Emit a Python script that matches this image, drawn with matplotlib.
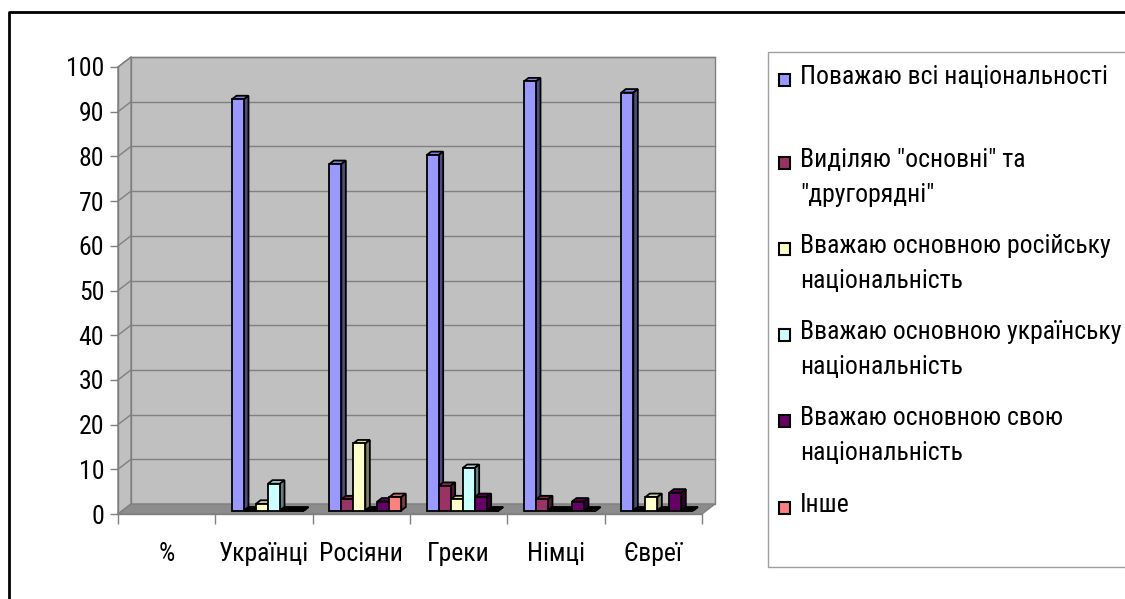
import matplotlib
matplotlib.use("Agg")
import matplotlib.pyplot as plt
from matplotlib.patches import Polygon, Rectangle
from matplotlib.lines import Line2D
import numpy as np

plt.rcParams['font.family'] = ['Roboto Condensed', 'Liberation Sans', 'DejaVu Sans']

# --- data -------------------------------------------------------------
categories = ["%", "Українці", "Росіяни", "Греки", "Німці", "Євреї"]
series_names = [
    "Поважаю всі національності",
    "Виділяю \"основні\" та\n\"другорядні\"",
    "Вважаю основною російську\nнаціональність",
    "Вважаю основною українську\nнаціональність",
    "Вважаю основною свою\nнаціональність",
    "Інше",
]
nan = float("nan")
respect_all = [nan, 92, 77.5, 79.5, 96, 93.5]
main_and_minor = [nan, 0, 2.5, 5.5, 2.5, 0]
main_russian = [nan, 1.5, 15, 2.5, 0, 3]
main_ukrainian = [nan, 6, 0, 9.5, 0, 0]
main_own = [nan, 0, 2, 3, 2, 4]
other = [nan, 0, 3, 0, 0, 0]
series_values = [respect_all, main_and_minor, main_russian, main_ukrainian, main_own, other]
series_colors = ["#9999FF", "#993366", "#FFFFCC", "#CCFFFF", "#660066", "#FF8080"]
y_ticks = list(range(0, 101, 10))

FS = 18.5

# --- figure and front plane of the chart ------------------------------
W, H = 1125, 599
fig = plt.figure(figsize=(W / 100, H / 100), dpi=100)
fig.patch.set_facecolor("white")

x0, x1 = 118, 702      # front plane, pixels
ytop, ybot = 67, 514
ax = fig.add_axes([x0 / W, 1 - ybot / H, (x1 - x0) / W, (ybot - ytop) / H])
ncat = len(categories)
ax.set_xlim(0, ncat)
ax.set_ylim(0, 100)
ax.set_facecolor("none")
for s in ax.spines.values():
    s.set_visible(False)

px_x = ncat / (x1 - x0)        # data units per pixel
px_y = 100 / (ybot - ytop)
wall_dx, wall_dy = 13 * px_x, 10 * px_y

wall_col = "#C0C0C0"
edge_col = "#808080"

# back wall
ax.add_patch(Rectangle((wall_dx, wall_dy), ncat, 100, facecolor=wall_col,
                       edgecolor=edge_col, lw=1, zorder=0, clip_on=False))
# left side wall
ax.add_patch(Polygon([(0, 0), (wall_dx, wall_dy), (wall_dx, 100 + wall_dy), (0, 100)],
                     closed=True, facecolor=wall_col, edgecolor=edge_col, lw=1,
                     zorder=0.5, clip_on=False))
# floor
ax.add_patch(Polygon([(0, 0), (ncat, 0), (ncat + wall_dx, wall_dy), (wall_dx, wall_dy)],
                     closed=True, facecolor="#8C8C8C", edgecolor=edge_col, lw=1,
                     zorder=0.6, clip_on=False))
# gridlines on back and side walls
for v in y_ticks[1:]:
    ax.plot([wall_dx, ncat + wall_dx], [v + wall_dy, v + wall_dy], color=edge_col,
            lw=1, zorder=0.3, clip_on=False)
    ax.plot([0, wall_dx], [v, v + wall_dy], color=edge_col, lw=1, zorder=0.7,
            clip_on=False)

# --- bars ---------------------------------------------------------------
nser = len(series_values)
bw = 12 * px_x
fdx, fdy = 4 * px_x, 3.5 * px_y      # front face of the bars
ddx, ddy = 4.5 * px_x, 3.5 * px_y    # bar depth


def shade(c, f):
    r, g, b = matplotlib.colors.to_rgb(c)
    return (r * f, g * f, b * f)


centers = np.arange(ncat) + 0.5
for j, (vals, col) in enumerate(zip(series_values, series_colors)):
    lefts = centers - nser * bw / 2 + j * bw + fdx
    z = 3 + j * 0.1
    ax.bar(lefts, vals, width=bw, bottom=fdy, align="edge", color=col,
           edgecolor="black", lw=1.3, zorder=z + 0.05, clip_on=False)
    for xl, v in zip(lefts, vals):
        if np.isnan(v):
            continue
        top = fdy + v
        top_col = "black" if v == 0 else shade(col, 0.85)
        ax.add_patch(Polygon([(xl, top), (xl + bw, top), (xl + bw + ddx, top + ddy),
                              (xl + ddx, top + ddy)], closed=True,
                             facecolor=top_col, edgecolor="black", lw=1.3,
                             zorder=z, clip_on=False))
        ax.add_patch(Polygon([(xl + bw, fdy), (xl + bw + ddx, fdy + ddy),
                              (xl + bw + ddx, top + ddy), (xl + bw, top)], closed=True,
                             facecolor=shade(col, 0.5), edgecolor="black", lw=1.3,
                             zorder=z, clip_on=False))

# --- axes ticks and labels ---------------------------------------------
ax.set_yticks(y_ticks)
ax.set_yticklabels([str(v) for v in y_ticks], fontsize=FS)
ax.tick_params(axis="y", length=6, width=1, color=edge_col, pad=4)
ax.set_xticks(centers)
ax.set_xticklabels(categories, fontsize=FS)
ax.tick_params(axis="x", which="major", length=0, pad=20)
ax.set_xticks(np.arange(ncat + 1), minor=True)
ax.tick_params(axis="x", which="minor", length=7, width=1, color=edge_col)
ax.plot([0, 0], [0, 100], color=edge_col, lw=1, zorder=0.8, clip_on=False)
ax.plot([0, ncat], [0, 0], color=edge_col, lw=1, zorder=0.8, clip_on=False)

# --- legend -------------------------------------------------------------
fig.patches.append(Rectangle((768 / W, 1 - 567 / H), (1130 - 768) / W, (567 - 52) / H,
                             transform=fig.transFigure, facecolor="white",
                             edgecolor="#A0A0A0", lw=1, zorder=1))
legend_y = [80, 163, 249, 335, 421, 508]
for name, col, yy in zip(series_names, series_colors, legend_y):
    fig.patches.append(Rectangle((779 / W, 1 - (yy + 6) / H), 11 / W, 12 / H,
                                 transform=fig.transFigure, facecolor=col,
                                 edgecolor="black", lw=1.5, zorder=2))
    fig.text(800 / W, 1 - (yy - 15) / H, name, fontsize=FS, va="top", ha="left",
             linespacing=1.6, zorder=3)

# outer frame of the chart area
fig.add_artist(Line2D([9 / W, 9 / W, 1.01], [-0.01, 1 - 12 / H, 1 - 12 / H],
                      transform=fig.transFigure, color="black", lw=2))

fig.savefig("out.png", dpi=100)
